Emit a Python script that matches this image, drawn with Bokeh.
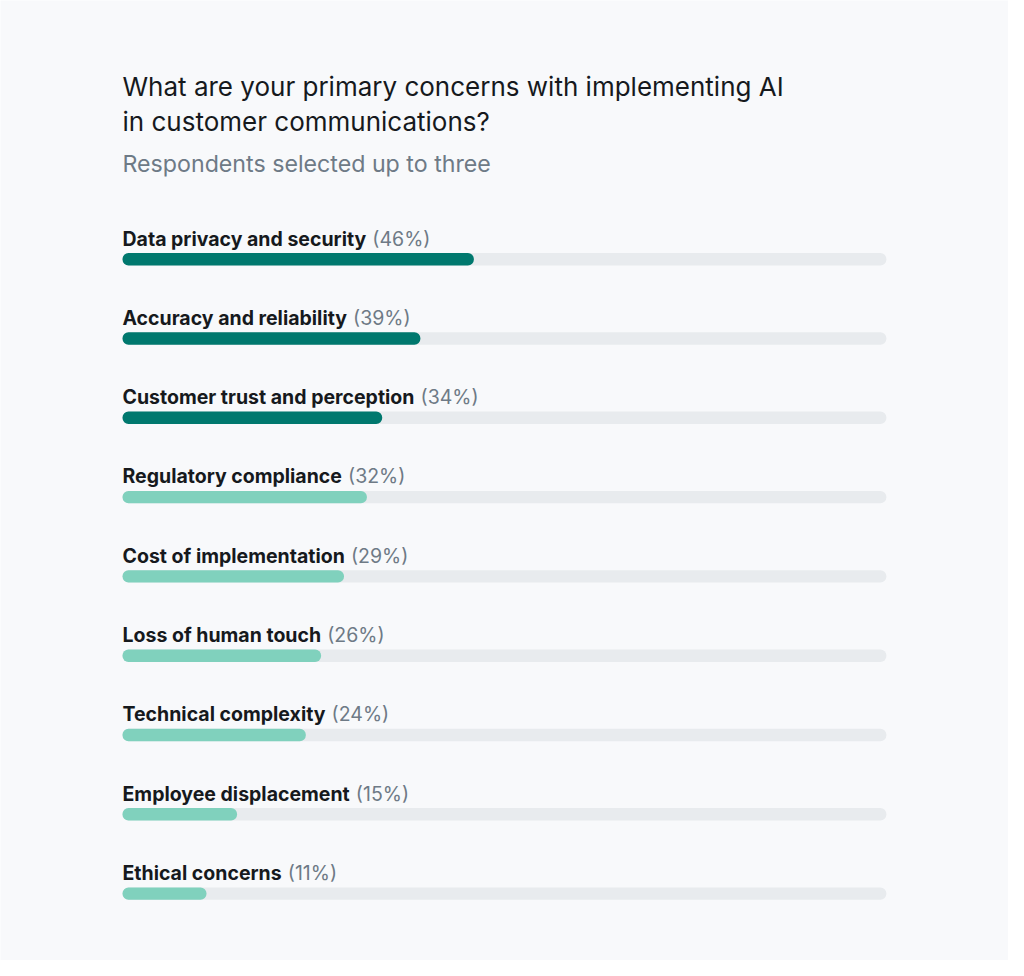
from bokeh.plotting import figure
from bokeh.models import ColumnDataSource, Range1d, Label, CustomJS
from bokeh.core.properties import value
from bokeh.document import Document
from bokeh.events import DocumentReady
from bokeh.embed import file_html
from bokeh.resources import INLINE

# ---- data ----
categories = [
    "Data privacy and security",
    "Accuracy and reliability",
    "Customer trust and perception",
    "Regulatory compliance",
    "Cost of implementation",
    "Loss of human touch",
    "Technical complexity",
    "Employee displacement",
    "Ethical concerns",
]
values = [46, 39, 34, 32, 29, 26, 24, 15, 11]
title_lines = ["What are your primary concerns with implementing AI",
               "in customer communications?"]
subtitle = "Respondents selected up to three"

# ---- styling ----
FONT = "Inter"
BG = "#f8f9fb"
DARK = "#00786e"
LIGHT = "#80d1bd"
TRACK = "#e8ebee"
INK = "#16191d"
GREY = "#6e7a86"
LABEL_SIZE = 19.5
W, H = 1008, 960
LEFT_PX = 122.0
PX_PER_PCT = 7.639
ROW0_PX = 258.7
ROW_PX = 79.3
BAR_PX = 12.4
LABEL_UP = 20.7

n = len(categories)
rows = list(range(n))
src = ColumnDataSource(dict(
    y=rows,
    label=categories,
    pct=["(%d%%)" % v for v in values],
    val=values,
    full=[100] * n,
    color=[DARK if i < 3 else LIGHT for i in rows],
    xoff=[len(c) * 0.50 * LABEL_SIZE + 6 for c in categories],
))

p = figure(width=W, height=H, output_backend="svg", toolbar_location=None,
           x_range=Range1d(-LEFT_PX / PX_PER_PCT, (W - LEFT_PX) / PX_PER_PCT),
           y_range=Range1d((H - ROW0_PX) / ROW_PX, -ROW0_PX / ROW_PX),
           min_border=0, background_fill_color=BG, border_fill_color=BG,
           outline_line_color=None)
p.axis.visible = False
p.grid.visible = False

bh = BAR_PX / ROW_PX
p.hbar(y="y", left=0, right="full", height=bh, source=src, fill_color=TRACK,
       line_color=None, border_radius=6)
p.hbar(y="y", left=0, right="val", height=bh, source=src, fill_color="color",
       line_color=None, border_radius=6)

p.text(x=0, y="y", text="label", source=src, y_offset=-LABEL_UP,
       text_font=value(FONT), text_font_size="%.1fpx" % LABEL_SIZE,
       text_font_style="bold", text_color=INK, text_baseline="alphabetic")
p.text(x=0, y="y", text="pct", source=src, x_offset="xoff", y_offset=-LABEL_UP,
       text_font=value(FONT), text_font_size="%.1fpx" % LABEL_SIZE,
       text_font_style="normal", text_color=GREY, text_baseline="alphabetic")

for txt, base in zip(title_lines, [85.6, 121.0]):
    p.add_layout(Label(x=LEFT_PX, y=H - base, x_units="screen", y_units="screen",
                       text=txt, text_font=FONT, text_font_size="26px",
                       text_color=INK, text_baseline="alphabetic"))
p.add_layout(Label(x=LEFT_PX, y=H - 163.3, x_units="screen", y_units="screen",
                   text=subtitle, text_font=FONT, text_font_size="23.2px",
                   text_color=GREY, text_baseline="alphabetic"))

doc = Document()
doc.add_root(p)
doc.js_on_event(DocumentReady, CustomJS(args=dict(src=src), code="""
const c = document.createElement('canvas').getContext('2d');
c.font = 'bold %.1fpx %s';
const d = src.data;
const xo = Array.from(d.label).map(s => c.measureText(s + ' ').width + 1.5);
src.data = Object.assign({}, d, {xoff: xo});
""" % (LABEL_SIZE, FONT)))

html = file_html(p, INLINE).replace("<body>", '<body style="background-color:%s;">' % BG, 1)
open("out.html", "w").write(html)
